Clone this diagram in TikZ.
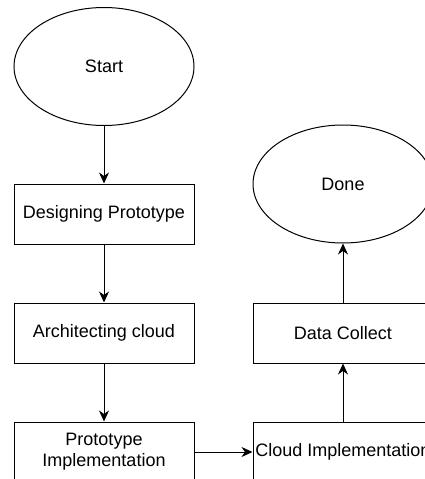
\documentclass[tikz,border=0pt]{standalone}
\usepackage{fontspec}
\setmainfont{Liberation Sans}
\usetikzlibrary{shapes.geometric,arrows.meta}
\tikzset{
  base/.style={draw=black, line width=1pt, inner sep=0pt, align=center, font=\fontsize{18}{21}\selectfont},
  oval/.style={base, ellipse, minimum width=180pt, minimum height=118pt},
  stepbox/.style={base, rectangle, minimum width=180pt, minimum height=60pt},
  conn/.style={draw=black, line width=1pt, -{Stealth[length=11pt,width=10pt,inset=3.5pt]}}
}
\begin{document}
\begin{tikzpicture}[x=1pt,y=1pt]
\useasboundingbox (0,0) rectangle (425,-479);
\clip (0,0) rectangle (425,-479);
\node[oval] (start) at (104,-66.5) {Start};
\node[stepbox] (design) at (104,-214) {Designing Prototype};
\node[stepbox] (arch) at (104,-333) {Architecting cloud};
\node[stepbox] (proto) at (104,-452) {Prototype\\Implementation};
\node[stepbox] (cloud) at (343,-452) {Cloud Implementation};
\node[stepbox] (data) at (343,-333) {Data Collect};
\node[oval] (done) at (343,-184) {Done};
\draw[conn] (start) -- (design);
\draw[conn] (design) -- (arch);
\draw[conn] (arch) -- (proto);
\draw[conn] (proto) -- (cloud);
\draw[conn] (cloud) -- (data);
\draw[conn] (data) -- (done);
\end{tikzpicture}
\end{document}
